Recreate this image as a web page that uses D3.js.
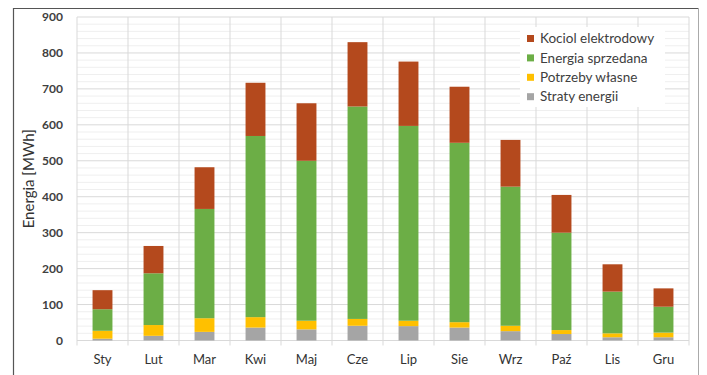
<!DOCTYPE html>
<html>
<head>
<meta charset="utf-8">
<script src="https://cdn.jsdelivr.net/npm/d3@7"></script>
<style>
  html, body { margin: 0; padding: 0; background: #fff; }
  svg { display: block; }
</style>
</head>
<body>
<svg id="chart" width="707" height="375"></svg>
<script>
// Monthly energy balance (MWh), stacked from bottom to top
const months = ["Sty", "Lut", "Mar", "Kwi", "Maj", "Cze", "Lip", "Sie", "Wrz", "Paź", "Lis", "Gru"];
const stratyEnergii = [5, 13, 24, 36, 31, 41, 40, 36, 26, 18, 9, 9];
const potrzebyWlasne = [22, 30, 38, 29, 24, 19, 15, 15, 15, 11, 11, 13];
const energiaSprzedana = [60, 144, 304, 504, 445, 591, 542, 499, 387, 271, 116, 72];
const kociolElektrodowy = [53, 76, 116, 148, 160, 179, 179, 156, 130, 105, 76, 51];
const yTicks = [0, 100, 200, 300, 400, 500, 600, 700, 800, 900];

const seriesNames = ["Straty energii", "Potrzeby własne", "Energia sprzedana", "Kocioł elektrodowy"];
const seriesValues = [stratyEnergii, potrzebyWlasne, energiaSprzedana, kociolElektrodowy];
const seriesColors = ["#a5a5a5", "#ffc000", "#6cae46", "#b4491d"];
const legendLabels = ["Kociol elektrodowy", "Energia sprzedana", "Potrzeby własne", "Straty energii"];
const legendColors = ["#b4491d", "#6cae46", "#ffc000", "#a5a5a5"];

const svg = d3.select("#chart");
const font = "Lato, 'Open Sans', sans-serif";

// outer frame
svg.append("line").attr("x1", 13).attr("y1", 8.5).attr("x2", 699).attr("y2", 8.5)
  .attr("stroke", "#555").attr("stroke-width", 1.2);
svg.append("line").attr("x1", 13.5).attr("y1", 8).attr("x2", 13.5).attr("y2", 375)
  .attr("stroke", "#555").attr("stroke-width", 1.2);
svg.append("line").attr("x1", 698.5).attr("y1", 8).attr("x2", 698.5).attr("y2", 375)
  .attr("stroke", "#aaa").attr("stroke-width", 1);

const plotLeft = 77, plotRight = 689, plotTop = 17, plotBottom = 340.5;

const x = d3.scaleBand().domain(months).range([plotLeft, plotRight]).paddingInner(0).paddingOuter(0);
const y = d3.scaleLinear().domain([0, 900]).range([plotBottom, plotTop]);

// minor horizontal grid
const minor = d3.range(0, 901, 20).filter(v => v % 100 !== 0);
svg.append("g").selectAll("line").data(minor).join("line")
  .attr("x1", plotLeft).attr("x2", plotRight)
  .attr("y1", d => y(d)).attr("y2", d => y(d))
  .attr("stroke", "#efefef").attr("stroke-width", 1);

// major horizontal grid
svg.append("g").selectAll("line").data(yTicks).join("line")
  .attr("x1", plotLeft).attr("x2", plotRight)
  .attr("y1", d => y(d)).attr("y2", d => y(d))
  .attr("stroke", "#d9d9d9").attr("stroke-width", 1);

// vertical grid at category boundaries (extending as tick marks)
const bounds = months.map(m => x(m)).concat([plotRight]);
svg.append("g").selectAll("line").data(bounds).join("line")
  .attr("x1", d => d).attr("x2", d => d)
  .attr("y1", plotTop).attr("y2", plotBottom + 5)
  .attr("stroke", "#d9d9d9").attr("stroke-width", 1);

// stacked bars
const rows = months.map((m, i) => {
  const r = { month: m };
  seriesNames.forEach((s, k) => { r[s] = seriesValues[k][i]; });
  return r;
});
const stack = d3.stack().keys(seriesNames)(rows);
const barW = x.bandwidth() * 0.39;

svg.append("g").selectAll("g").data(stack).join("g")
  .attr("fill", (d, i) => seriesColors[i])
  .selectAll("rect").data(d => d).join("rect")
  .attr("x", d => x(d.data.month) + (x.bandwidth() - barW) / 2)
  .attr("width", barW)
  .attr("y", d => y(d[1]))
  .attr("height", d => y(d[0]) - y(d[1]));

// y axis labels
const yAxis = d3.axisLeft(y).tickValues(yTicks).tickSize(0).tickPadding(14);
const gy = svg.append("g").attr("transform", `translate(${plotLeft},0)`).call(yAxis);
gy.select(".domain").remove();
gy.selectAll("text").attr("font-family", font).attr("font-size", 12).attr("font-weight", 700)
  .attr("fill", "#404040");

// x axis labels
const xAxis = d3.axisBottom(x).tickSize(0).tickPadding(14);
const gx = svg.append("g").attr("transform", `translate(0,${plotBottom})`).call(xAxis);
gx.select(".domain").remove();
gx.selectAll("text").attr("font-family", font).attr("font-size", 13)
  .attr("fill", "#333");

// y axis title
svg.append("text")
  .attr("transform", `translate(29,${(plotTop + plotBottom) / 2}) rotate(-90)`)
  .attr("text-anchor", "middle").attr("dy", "0.35em")
  .attr("font-family", font).attr("font-size", 15).attr("fill", "#333")
  .text("Energia [MWh]");

// legend
const lg = svg.append("g").attr("transform", "translate(520,27)");
lg.append("rect").attr("x", 0).attr("y", 0).attr("width", 145).attr("height", 80).attr("fill", "#fff");
legendLabels.forEach((label, i) => {
  const cy = 11.5 + i * 19.4;
  lg.append("rect").attr("x", 7).attr("y", cy - 3.5).attr("width", 7).attr("height", 7)
    .attr("fill", legendColors[i]);
  lg.append("text").attr("x", 20).attr("y", cy).attr("dy", "0.35em")
    .attr("font-family", font).attr("font-size", 13.5).attr("fill", "#404040")
    .text(label);
});
</script>
</body>
</html>
